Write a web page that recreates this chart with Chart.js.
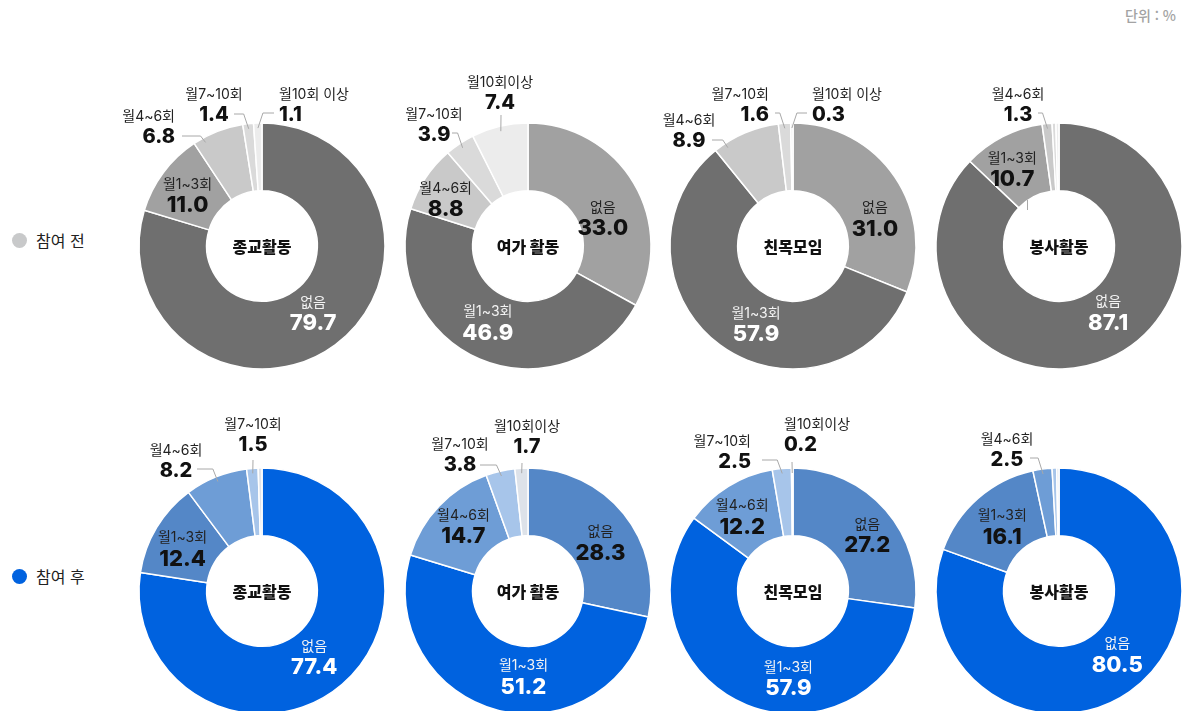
<!DOCTYPE html>
<html lang="ko">
<head>
<meta charset="utf-8">
<title>참여 전후 활동 빈도</title>
<script src="https://cdn.jsdelivr.net/npm/chart.js@4.4.1/dist/chart.umd.min.js"></script>
<style>
  body { margin: 0; width: 1186px; height: 711px; overflow: hidden; background: #fff; position: relative;
         font-family: 'Noto Sans CJK KR', sans-serif; }
  .unit { position: absolute; right: 10px; top: 5px; font-size: 14px; font-weight: 500; color: #a3a3a3; }
  .legend { position: absolute; left: 12px; height: 20px; display: flex; align-items: center;
            font-size: 16px; color: #222; }
  .legend i { display: inline-block; width: 15px; height: 15px; border-radius: 50%; margin-right: 9px; }
  .box { position: absolute; width: 320px; height: 380px; }
</style>
</head>
<body>
<div class="unit">단위 : %</div>
<div class="legend" style="top:230px"><i style="background:#c8c9ca"></i>참여 전</div>
<div class="legend" style="top:566px"><i style="background:#0062df"></i>참여 후</div>

<script>
// 활동 종류와 빈도 구분
const categories = ['없음', '월1~3회', '월4~6회', '월7~10회', '월10회 이상'];
const activities = ['종교활동', '여가 활동', '친목모임', '봉사활동'];

// 참여 전 (%)
const beforeValues = [
  [79.7, 11.0, 6.8, 1.4, 1.1],
  [33.0, 46.9, 8.8, 3.9, 7.4],
  [31.0, 57.9, 8.9, 1.6, 0.3],
  [87.1, 10.7, 1.3, 0.5, 0.4]
];

// 참여 후 (%)
const afterValues = [
  [77.4, 12.4, 8.2, 1.5, 0.5],
  [28.3, 51.2, 14.7, 3.8, 1.7],
  [27.2, 57.9, 12.2, 2.5, 0.2],
  [80.5, 16.1, 2.5, 0.6, 0.3]
];

const greyPalette = ['#6f6f6f', '#a1a1a1', '#c9c9c9', '#dadada', '#ececec'];
const bluePalette = ['#0062df', '#5487c7', '#6e9dd6', '#a7c5ea', '#dde2e9'];

const centersX = [262, 528, 793, 1059];
const rowY = [246, 591];

// 라벨 배치: at = 조각 안쪽(중심점 보정), out = 바깥 라벨(차트 중심 기준) + 지시선
const beforeLayout = [
  [{ at: [-2, -5] }, { at: [-3, 2] },
   { out: [-87, -129], align: 'right', lead: [-80, -110], f: 0.2 },
   { out: [-48, -151], align: 'center', lead: [-28, -132] },
   { out: [17, -151], align: 'left', lead: [12, -133] }],
  [{ at: [-2, 17] }, { at: [-5, -6] }, { at: [-8, 2] },
   { out: [-94, -131], align: 'center', lead: [-76, -113] },
   { out: [-28, -163], align: 'center', lead: [-27, -131], name: '월10회이상' }],
  [{ at: [8, 22] }, { at: [16, 6] },
   { out: [-104, -125], align: 'center', lead: [-81, -106], f: 0.17 },
   { out: [-24, -151], align: 'right', lead: [-18, -133] },
   { out: [19, -151], align: 'left', lead: [14, -133] }],
  [{ at: [14, -16] }, { at: [-6, 2], stub: [-32, -46, -36] },
   { out: [-41, -151], align: 'center', lead: [-21, -133] },
   null, null]
];

const afterLayout = [
  [{ at: [-6, -2] }, { at: [-3, 3] },
   { out: [-86, -140], align: 'center', lead: [-65, -122] },
   { out: [-9, -166], align: 'center', lead: [-9, -131] },
   null],
  [{ at: [3, 7] }, { at: [18, -1] }, { at: [0, -4] },
   { out: [-68, -146], align: 'center', lead: [-48, -126] },
   { out: [-1, -164], align: 'center', lead: [-6, -128], name: '월10회이상' }],
  [{ at: [7, 2] }, { at: [29, 4] }, { at: [-4, 1] },
   { out: [-42, -149], align: 'right', lead: [-31, -131] },
   { out: [-9, -166], align: 'left', lead: [-1, -129], name: '월10회이상' }],
  [{ at: [7, -10] }, { at: [2, 2] },
   { out: [-52, -151], align: 'center', lead: [-29, -133] },
   null, null]
];

const BOX_W = 320, BOX_H = 380, CX = 160, CY = 200, R = 123, BW = 1.5;
const labelFont = '400 14px Inter, "Noto Sans CJK KR", sans-serif';
const inValueFont = '800 22px Inter, "Noto Sans CJK KR", sans-serif';
const outValueFont = '800 20px Inter, "Noto Sans CJK KR", sans-serif';

// 상위 두 구간 중 큰 쪽이 가장 진한 색
function sliceColors(values, palette) {
  const top = values[0] >= values[1] ? 0 : 1;
  return values.map((v, i) => i < 2 ? palette[i === top ? 0 : 1] : palette[i]);
}

function makeDonut(x, y, values, palette, layout, title) {
  const box = document.createElement('div');
  box.className = 'box';
  box.style.left = (x - CX) + 'px';
  box.style.top = (y - CY) + 'px';
  const canvas = document.createElement('canvas');
  canvas.width = BOX_W;
  canvas.height = BOX_H;
  box.appendChild(canvas);
  document.body.appendChild(box);

  const top = values[0] >= values[1] ? 0 : 1;
  const half = R + BW / 2;

  new Chart(canvas, {
    type: 'doughnut',
    data: {
      labels: categories,
      datasets: [{
        data: values,
        backgroundColor: sliceColors(values, palette),
        borderColor: '#ffffff',
        borderWidth: BW
      }]
    },
    options: {
      responsive: false,
      animation: false,
      cutout: '45%',
      layout: { padding: { left: CX - half, right: BOX_W - CX - half, top: CY - half, bottom: BOX_H - CY - half } },
      plugins: { legend: { display: false }, tooltip: { enabled: false } }
    },
    plugins: [{
      id: 'donutLabels',
      afterDatasetsDraw(chart) {
        const ctx = chart.ctx;
        const arcs = chart.getDatasetMeta(0).data;
        const cx = arcs[0].x, cy = arcs[0].y;
        ctx.save();
        ctx.textBaseline = 'middle';

        ctx.textAlign = 'center';
        ctx.font = '900 16px "Noto Sans CJK KR", sans-serif';
        ctx.fillStyle = '#111';
        ctx.fillText(title, cx, cy + 1);

        ctx.strokeStyle = '#a8a8a8';
        ctx.lineWidth = 1;

        arcs.forEach((arc, i) => {
          const p = layout[i];
          if (!p) return;
          const name = p.name || categories[i];
          const value = values[i].toFixed(1);

          if (p.stub) {
            ctx.beginPath();
            ctx.moveTo(cx + p.stub[0] + 0.5, cy + p.stub[1]);
            ctx.lineTo(cx + p.stub[0] + 0.5, cy + p.stub[2]);
            ctx.stroke();
          }

          if (p.at) {
            const pos = arc.tooltipPosition();
            const lx = pos.x + p.at[0], ly = pos.y + p.at[1];
            const light = i === top;
            ctx.textAlign = 'center';
            ctx.font = labelFont;
            ctx.fillStyle = light ? '#f4f4f4' : '#222';
            ctx.fillText(name, lx, ly - 10);
            ctx.font = inValueFont;
            ctx.fillStyle = light ? '#ffffff' : '#111';
            ctx.fillText(value, lx, ly + 11);
            return;
          }

          // 지시선
          const f = p.f == null ? 0.5 : p.f;
          const a = arc.startAngle + (arc.endAngle - arc.startAngle) * f;
          const er = arc.outerRadius - 5;
          const ex = cx + Math.cos(a) * er, ey = cy + Math.sin(a) * er;
          const sx = cx + p.lead[0], sy = cy + p.lead[1];
          ctx.beginPath();
          ctx.moveTo(sx, sy);
          if (Math.abs(ex - sx) > 6) ctx.lineTo(ex - Math.sign(ex - sx) * 5, sy);
          ctx.lineTo(ex, ey);
          ctx.stroke();

          const tx = cx + p.out[0], ty = cy + p.out[1];
          ctx.textAlign = p.align;
          ctx.font = labelFont;
          ctx.fillStyle = '#222';
          ctx.fillText(name, tx, ty);
          ctx.font = outValueFont;
          ctx.fillStyle = '#111';
          ctx.fillText(value, tx, ty + 20);
        });
        ctx.restore();
      }
    }]
  });
}

activities.forEach((title, k) => {
  makeDonut(centersX[k], rowY[0], beforeValues[k], greyPalette, beforeLayout[k], title);
  makeDonut(centersX[k], rowY[1], afterValues[k], bluePalette, afterLayout[k], title);
});
</script>
</body>
</html>
